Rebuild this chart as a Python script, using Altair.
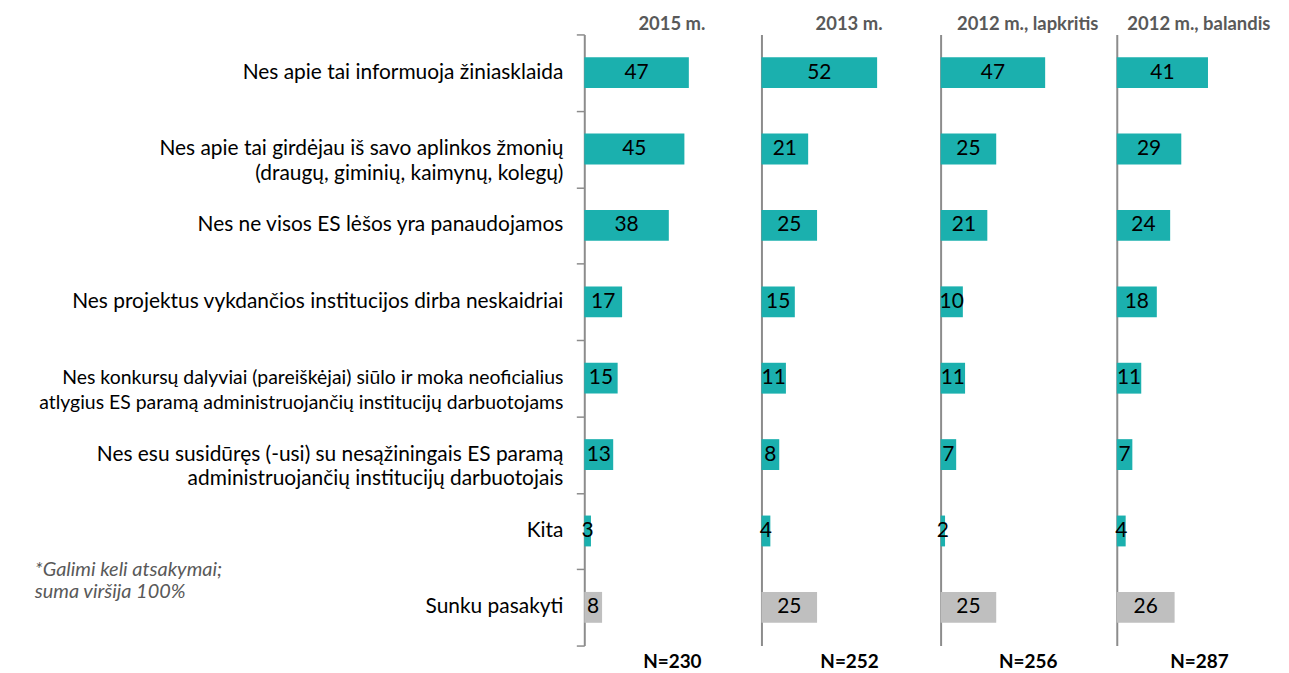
import altair as alt
import pandas as pd

FONT = "Lato"

categories = [
    "Nes apie tai informuoja žiniasklaida",
    "Nes apie tai girdėjau iš savo aplinkos žmonių|(draugų, giminių, kaimynų, kolegų)",
    "Nes ne visos ES lėšos yra panaudojamos",
    "Nes projektus vykdančios  institucijos dirba  neskaidriai",
    "Nes konkursų  dalyviai (pareiškėjai) siūlo ir moka  neoficialius|atlygius ES paramą administruojančių institucijų darbuotojams",
    "Nes esu susidūręs (-usi) su nesąžiningais ES paramą|administruojančių institucijų darbuotojais",
    "Kita",
    "Sunku pasakyti",
]
surveys = ["2015 m.", "2013 m.", "2012 m., lapkritis", "2012 m., balandis"]
sample_sizes = ["N=230", "N=252", "N=256", "N=287"]
values_2015 = [47, 45, 38, 17, 15, 13, 3, 8]
values_2013 = [52, 21, 25, 15, 11, 8, 4, 25]
values_2012_lapkritis = [47, 25, 21, 10, 11, 7, 2, 25]
values_2012_balandis = [41, 29, 24, 18, 11, 7, 4, 26]
footnote_lines = ["*Galimi keli atsakymai;", "suma viršija 100%"]

series = [values_2015, values_2013, values_2012_lapkritis, values_2012_balandis]
rows = []
for s, vals in zip(surveys, series):
    for c, v in zip(categories, vals):
        rows.append({"survey": s, "category": c, "value": v})
df = pd.DataFrame(rows)

PX_PER_UNIT = 2.235
widths = [176, 176, 175, 165]
H = 614
TEAL = "#1BB0AE"
GREY_BAR = "#BFBFBF"
AXIS_GREY = "#8C8C8C"


def panel(i):
    d = df[df.survey == surveys[i]]
    w = widths[i]
    xscale = alt.Scale(domain=[0, w / PX_PER_UNIT], nice=False, zero=True)
    yscale = alt.Scale(domain=categories, paddingInner=0, paddingOuter=0)
    if i == 0:
        yaxis = alt.Axis(
            title=None,
            labels=False,
            tickBand="extent",
            tickSize=8,
            tickColor=AXIS_GREY,
            tickWidth=1.5,
            domainColor=AXIS_GREY,
            domainWidth=2,
        )
    else:
        yaxis = alt.Axis(
            title=None, labels=False, ticks=False,
            domainColor=AXIS_GREY, domainWidth=2,
        )
    xaxis = alt.Axis(
        title=sample_sizes[i], labels=False, ticks=False, domain=False, grid=False,
        titleFont=FONT, titleFontSize=19, titleFontWeight="bold",
        titleColor="#000000", titlePadding=7,
    )
    base = alt.Chart(d).encode(
        y=alt.Y("category:N", sort=categories, scale=yscale, axis=yaxis)
    )
    bars = base.mark_bar(height=31).encode(
        x=alt.X("value:Q", scale=xscale, axis=xaxis),
        color=alt.when(alt.datum.category == "Sunku pasakyti")
        .then(alt.value(GREY_BAR))
        .otherwise(alt.value(TEAL)),
    )
    labels = base.mark_text(font=FONT, fontSize=21, color="#000000").transform_calculate(
        mid="datum.value / 2"
    ).encode(
        x=alt.X("mid:Q", scale=xscale, axis=xaxis),
        text=alt.Text("value:Q"),
    )
    header = alt.Chart(pd.DataFrame({"t": [surveys[i]]})).mark_text(
        align="center", baseline="alphabetic", font=FONT, fontSize=18.5,
        fontWeight="bold", color="#595959",
    ).encode(x=alt.value(w / 2), y=alt.value(-4), text="t:N")
    layers = [bars, labels, header]
    if i == 0:
        cat_labels = base.mark_text(
            align="right", baseline="middle", lineBreak="|", lineHeight=25,
            font=FONT, color="#000000",
        ).transform_calculate(
            fs="indexof(datum.category, 'konkursų') >= 0 ? 19.5 : 21"
        ).encode(
            x=alt.value(-21),
            text="category:N",
            size=alt.Size("fs:Q", scale=None, legend=None),
        )
        foot = alt.Chart(pd.DataFrame({"t": ["\n".join(footnote_lines)]})).mark_text(
            align="left", baseline="middle", lineBreak="\n", font=FONT,
            fontSize=20, fontStyle="italic", color="#595959", lineHeight=22,
        ).encode(x=alt.value(-552), y=alt.value(538), text="t:N")
        layers += [cat_labels, foot]
    return alt.layer(*layers).properties(width=w, height=H)


chart = alt.hconcat(*[panel(i) for i in range(4)], spacing=0).properties(
    padding={"left": 27, "top": 6, "right": 0, "bottom": 0}
).configure_view(stroke=None)

chart.save("out.html", embed_options={"renderer": "svg", "actions": False})
